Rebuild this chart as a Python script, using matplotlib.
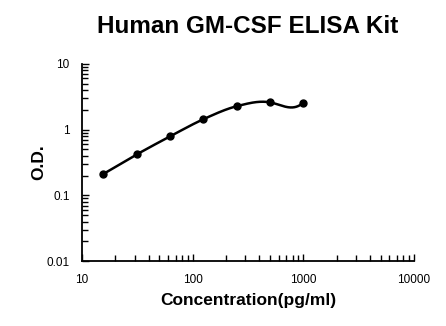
import numpy as np
import matplotlib.pyplot as plt
from matplotlib.ticker import LogLocator, NullFormatter, FixedLocator, FixedFormatter

plt.rcParams['font.family'] = ['Liberation Sans', 'DejaVu Sans']

conc = [15.6, 31.25, 62.5, 125, 250, 500, 1000]
od = [0.212, 0.42, 0.79, 1.44, 2.27, 2.6, 2.57]


def smooth_line(x, y, end_slopes, n=60):
    # cubic Hermite through the points (log-log), as the original's smoothed line
    x = np.asarray(x, float)
    y = np.asarray(y, float)
    m = np.gradient(y, x)
    for i, s in end_slopes.items():
        m[i] = s
    xs, ys = [], []
    for i in range(len(x) - 1):
        h = x[i + 1] - x[i]
        t = np.linspace(0, 1, n)
        h00 = 2 * t**3 - 3 * t**2 + 1
        h10 = t**3 - 2 * t**2 + t
        h01 = -2 * t**3 + 3 * t**2
        h11 = t**3 - t**2
        xs.append(x[i] + t * h)
        ys.append(h00 * y[i] + h10 * h * m[i] + h01 * y[i + 1] + h11 * h * m[i + 1])
    return np.concatenate(xs), np.concatenate(ys)


lx, ly = smooth_line(np.log10(conc), np.log10(od), {5: -0.3, 6: 1.5})

fig = plt.figure(figsize=(4.46, 3.26), dpi=100)
ax = fig.add_axes([0.184, 0.199, 0.744, 0.605])

ax.plot(10**lx, 10**ly, color='black', lw=1.8)
ax.plot(conc, od, 'o', color='black', ms=5)

ax.set_xscale('log')
ax.set_yscale('log')
ax.set_xlim(10, 10000)
ax.set_ylim(0.01, 10)

ax.xaxis.set_major_locator(FixedLocator([10, 100, 1000, 10000]))
ax.xaxis.set_major_formatter(FixedFormatter(['10', '100', '1000', '10000']))
ax.yaxis.set_major_locator(FixedLocator([0.01, 0.1, 1, 10]))
ax.yaxis.set_major_formatter(FixedFormatter(['0.01', '0.1', '1', '10']))
ax.xaxis.set_minor_locator(LogLocator(base=10, subs=np.arange(2, 10)))
ax.yaxis.set_minor_locator(LogLocator(base=10, subs=np.arange(2, 10)))
ax.xaxis.set_minor_formatter(NullFormatter())
ax.yaxis.set_minor_formatter(NullFormatter())

ax.tick_params(which='both', direction='in', labelsize=8.5, width=1)
ax.tick_params(which='major', length=5, pad=9)
ax.tick_params(which='minor', length=4)

for s in ['top', 'right']:
    ax.spines[s].set_visible(False)
for s in ['left', 'bottom']:
    ax.spines[s].set_linewidth(1.3)

ax.set_xlabel('Concentration(pg/ml)', fontsize=12.5, fontweight='bold', labelpad=5)
ax.set_ylabel('O.D.', fontsize=12.5, fontweight='bold', labelpad=0)
fig.suptitle('Human GM-CSF ELISA Kit', fontsize=17.5, fontweight='bold', x=0.555, y=0.955)

fig.savefig('out.png', dpi=100)
